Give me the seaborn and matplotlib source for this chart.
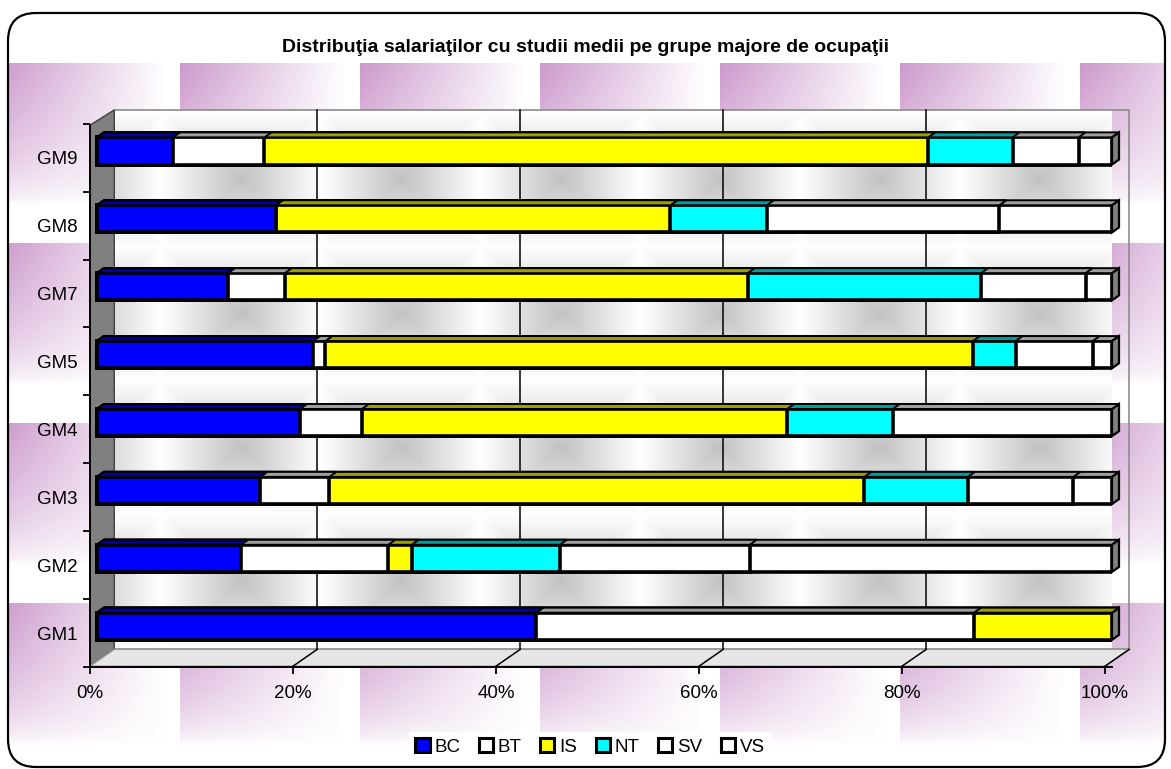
import numpy as np
import pandas as pd
import matplotlib
matplotlib.use("Agg")
import matplotlib.pyplot as plt
import seaborn as sns
from matplotlib.patches import Polygon, Rectangle, FancyBboxPatch, Patch
from matplotlib.colors import to_rgb

# data (percent of employees with secondary studies)
categories = ["GM1", "GM2", "GM3", "GM4", "GM5", "GM7", "GM8", "GM9"]
series = ["BC", "BT", "IS", "NT", "SV", "VS"]
bc = [43.3, 14.2, 16.1, 20.0, 21.3, 12.9, 17.6, 7.5]
bt = [43.1, 14.5, 6.8, 6.1, 1.2, 5.6, 0.0, 9.0]
is_ = [13.6, 2.3, 52.7, 41.9, 63.8, 45.6, 38.9, 65.4]
nt = [0.0, 14.6, 10.2, 10.4, 4.2, 23.0, 9.5, 8.3]
sv = [0.0, 18.7, 10.4, 21.6, 7.6, 10.3, 22.9, 6.5]
vs = [0.0, 35.7, 3.8, 0.0, 1.9, 2.6, 11.1, 3.3]
colors = {"BC": "#0000ff", "BT": "#ffffff", "IS": "#ffff00",
          "NT": "#00ffff", "SV": "#ffffff", "VS": "#ffffff"}
title = "Distribuţia salariaţilor cu studii medii pe grupe majore de ocupaţii"

df = pd.DataFrame({"grupa": categories, "BC": bc, "BT": bt, "IS": is_,
                   "NT": nt, "SV": sv, "VS": vs})
cum = df[series].cumsum(axis=1)
order = categories[::-1]  # GM9 at the top

plt.rcParams["font.family"] = ["Liberation Sans", "DejaVu Sans"]

W, H = 1171, 769
fig = plt.figure(figsize=(W / 100, H / 100), dpi=100)
fig.patch.set_facecolor("white")

# ---- background: purple gradient tiles inside a rounded frame
bg = fig.add_axes([0, 0, 1, 1])
bg.set_zorder(-1)
yy, xx = np.mgrid[0:H, 0:W]
tx = xx % 180
ty = (yy - 63) % 180
w = np.clip(1 - tx / 165, 0, 1) * np.clip(1 - ty / 140, 0, 1) ** 0.6
w[yy < 63] = 0
purple = np.array([0.80, 0.60, 0.80])
img = (1 - w[..., None]) * 1.0 + w[..., None] * purple
im = bg.imshow(img, extent=(0, W, H, 0), aspect="auto", interpolation="bilinear")
bg.set_xlim(0, W)
bg.set_ylim(H, 0)
bg.axis("off")
frame = FancyBboxPatch((8, 13), W - 14, H - 15, boxstyle="round,pad=0,rounding_size=28",
                       fill=False, ec="black", lw=1.6)
bg.add_patch(frame)
im.set_clip_path(frame)

fig.text(0.5, 1 - 47 / H, title, ha="center", va="center",
         fontsize=14, fontweight="bold")

# ---- main axes (bar plane)
ax = fig.add_axes([90 / W, 1 - 667 / H, 1022 / W, 557 / H])
ax.patch.set_visible(False)

XF = -0.69          # front plane offset (x units)
XB = 1.7            # back plane offset
Y_FRONT = 7.588
Y_BACK = 7.34
Y_TOP = -0.603
DX, DY = 0.69, 5 / 68   # bar depth

# back wall texture
th, tw = 540, 1017
vy, ux = np.mgrid[0:th, 0:tw]
u = ((ux - 47) % 160) / 160
v = ((vy - 3) % 134) / 134
g = 0.76 + 0.24 * np.maximum(np.abs(u - 0.5), np.abs(v - 0.5)) * 2
wall_img = np.dstack([g, g, g])
ax.imshow(wall_img, extent=(XB, 100 + XB, Y_BACK, Y_TOP), aspect="auto",
          zorder=0.5, interpolation="bilinear")
ax.add_patch(Rectangle((XB, Y_TOP), 100, Y_BACK - Y_TOP, fill=False,
                       ec="#8c8c8c", lw=1.2, zorder=0.6, clip_on=False))

# left wall and floor
ax.add_patch(Polygon([(XF, Y_FRONT), (XF, -0.38), (XB, Y_TOP), (XB, Y_BACK)],
                     closed=True, fc="#808080", ec="#404040", lw=1, zorder=0.7, clip_on=False))
ax.add_patch(Polygon([(XF, Y_FRONT), (100 + XF, Y_FRONT), (100 + XB, Y_BACK), (XB, Y_BACK)],
                     closed=True, fc="#e6e6e6", ec="#9a9a9a", lw=1, zorder=0.7, clip_on=False))

# gridlines on back wall + slanted floor lines
for p in [20, 40, 60, 80]:
    ax.plot([p + XB, p + XB], [Y_BACK, Y_TOP], color="black", lw=1.1, zorder=0.8, clip_on=False)
for p in [20, 40, 60, 80, 100]:
    ax.plot([p + XF, p + XB], [Y_FRONT, Y_BACK], color="black", lw=1.1, zorder=0.8, clip_on=False)


def darker(c, f=0.62):
    return tuple(np.array(to_rgb(c)) * f)


# stacked bars: draw cumulative totals from the last series back to the first
for k, name in enumerate(reversed(series)):
    n0 = len(ax.patches)
    sns.barplot(x=cum[name], y=df["grupa"], order=order, orient="h",
                color=colors[name], saturation=1, width=0.4,
                edgecolor="black", linewidth=2.6, ax=ax)
    bars = list(ax.patches[n0:])
    for bar in bars:
        bar.set_zorder(3 + k)
        x0, y0 = bar.get_x(), bar.get_y()
        bw, bh = bar.get_width(), bar.get_height()
        top = Polygon([(x0, y0), (x0 + bw, y0), (x0 + bw + DX, y0 - DY), (x0 + DX, y0 - DY)],
                      closed=True, fc=darker(colors[name]), ec="black", lw=1.4,
                      zorder=3 + k, clip_on=False)
        ax.add_patch(top)
        if k == 0:
            cap = Polygon([(x0 + bw, y0), (x0 + bw + DX, y0 - DY),
                           (x0 + bw + DX, y0 + bh - DY), (x0 + bw, y0 + bh)],
                          closed=True, fc="#808080", ec="black", lw=1.6,
                          zorder=3 + k, clip_on=False)
            ax.add_patch(cap)

ax.set_xlim(XF, 100)
ax.set_ylim(Y_FRONT, Y_TOP)
ax.set_xlabel("")
ax.set_ylabel("")

# axes, ticks
for s in ["top", "right"]:
    ax.spines[s].set_visible(False)
ax.spines["left"].set_bounds(Y_FRONT, -0.38)
ax.spines["left"].set_linewidth(1.4)
ax.spines["bottom"].set_linewidth(1.4)
ax.spines["left"].set_zorder(1)
ax.spines["bottom"].set_zorder(1)

ax.set_xticks([p + XF for p in range(0, 101, 20)])
ax.set_xticklabels([f"{p}%" for p in range(0, 101, 20)], fontsize=13.5)
ax.tick_params(axis="x", direction="out", length=5, width=1.3, pad=8)

ax.set_yticks([i + 0.1 for i in range(len(order))])
ax.set_yticklabels(order, fontsize=13.5)
ax.set_yticks([i - 0.4 for i in range(len(order) + 1)], minor=True)
ax.tick_params(axis="y", which="major", length=0, pad=9)
ax.tick_params(axis="y", which="minor", direction="out", length=5, width=1.3)
ax.grid(False)

handles = [Patch(facecolor=colors[s], edgecolor="black", linewidth=2.2) for s in series]
leg = fig.legend(handles, series, loc="center", bbox_to_anchor=(590 / W, 1 - 747 / H),
                 ncol=6, fontsize=13.5, frameon=True, fancybox=False, edgecolor="white",
                 facecolor="white", framealpha=1, handlelength=0.75, handleheight=0.75,
                 handletextpad=0.25, columnspacing=1.0, borderpad=0.35)

fig.savefig("out.png", dpi=100)
